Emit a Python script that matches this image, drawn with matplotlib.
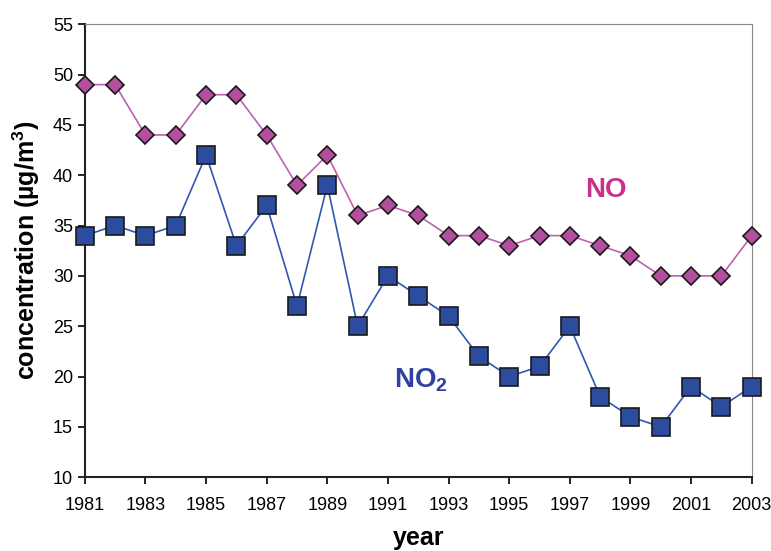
import numpy as np
from matplotlib import pyplot as plt

plt.rcParams['font.family'] = ['Liberation Sans', 'DejaVu Sans']
plt.rcParams['mathtext.fontset'] = 'custom'
plt.rcParams['mathtext.rm'] = 'Liberation Sans'
plt.rcParams['mathtext.bf'] = 'Liberation Sans:bold'

years = np.arange(1981, 2004)
no = [49, 49, 44, 44, 48, 48, 44, 39, 42, 36, 37, 36, 34, 34, 33, 34, 34, 33, 32, 30, 30, 30, 34]
no2 = [34, 35, 34, 35, 42, 33, 37, 27, 39, 25, 30, 28, 26, 22, 20, 21, 25, 18, 16, 15, 19, 17, 19]
xticks = np.arange(1981, 2004, 2)

fig = plt.figure(figsize=(7.71, 5.51), dpi=100)
ax = fig.add_axes([0.110, 0.134, 0.865, 0.822])

ax.plot(years, no, color='#C060B0', lw=1.2, marker='D', ms=9.5,
        mfc='#B44FA0', mec='#1a1a1a', mew=1.2, clip_on=False, zorder=3)
ax.plot(years, no2, color='#3058B0', lw=1.2, marker='s', ms=12.5,
        mfc='#2B4C9F', mec='#1a1a1a', mew=1.2, clip_on=False, zorder=3)

ax.text(1998.2, 38.5, 'NO', color='#C8308C', fontsize=20, fontweight='bold',
        ha='center', va='center')
ax.text(1992.1, 19.6, 'NO$_\\mathbf{2}$', color='#3040A0', fontsize=20, fontweight='bold',
        ha='center', va='center')

ax.set_xlim(1981, 2003)
ax.set_ylim(10, 55)
ax.set_xticks(xticks)
ax.set_yticks(np.arange(10, 56, 5))
ax.tick_params(direction='out', length=5, labelsize=13, width=1.2)
ax.tick_params(axis='x', pad=9)
for s in ['top', 'right']:
    ax.spines[s].set_color('#888888')
for s in ['left', 'bottom']:
    ax.spines[s].set_linewidth(1.5)
    ax.spines[s].set_color('#222222')

ax.set_ylabel('concentration (µg/m$^\\mathbf{3}$)', fontsize=18, fontweight='bold', labelpad=8)
ax.set_xlabel('year', fontsize=18, fontweight='bold', labelpad=9)

fig.savefig('out.png', dpi=100)
